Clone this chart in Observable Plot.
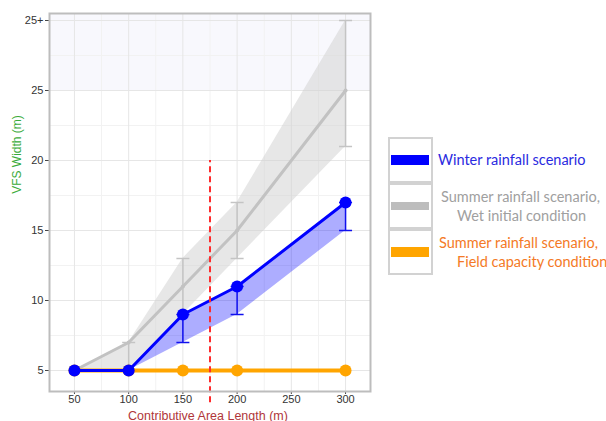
<!DOCTYPE html>
<html><head><meta charset="utf-8">
<script src="https://cdn.jsdelivr.net/npm/d3@7"></script>
<script src="https://cdn.jsdelivr.net/npm/@observablehq/plot@0.6"></script>
<style>
body{margin:0;background:#fff;}
#wrap{position:relative;width:606px;height:421px;overflow:hidden;}
#chart{position:absolute;left:0;top:0;}
#legend{position:absolute;left:0;top:0;width:606px;height:421px;font-family:Lato,"Open Sans",sans-serif;font-size:14.5px;}
.box{position:absolute;left:388px;width:41px;border:2px solid #d2d2d2;box-sizing:content-box;}
.sw{position:absolute;left:391px;width:38px;}
.lt{position:absolute;white-space:nowrap;line-height:18px;}
</style></head><body>
<div id="wrap"><div id="chart"></div><div id="legend"></div></div>
<script>
// ---- data ----
const lengths    = [50, 100, 150, 200, 300];
const winter     = [5, 5, 9, 11, 17];
const winterLow  = [5, 5, 7, 9, 15];
const winterHigh = [5, 5, 9, 11, 17];
const wet        = [5, 7, 11, 15, 25];
const wetLow     = [5, 5, 9, 13, 21];
const wetHigh    = [5, 7, 13, 17, 30];
const field      = [5, 5, 5, 5, 5];
const xTicks = [50, 100, 150, 200, 250, 300];
const xMinor = [75, 125, 175, 225, 275];
const yTicks = [5, 10, 15, 20, 25, 30];
const yTickLabels = ["5", "10", "15", "20", "25", "25+"];
const yMinor = [7.5, 12.5, 17.5, 22.5, 27.5];
const capBand = [{lo: 25, hi: 30.5}];
const threshold = [{x: 175, y1: 2.7, y2: 20}];
const legendItems = [
  {lines: ["Winter rainfall scenario"], color: "#2a2ae0", swatch: "#0000ff"},
  {lines: ["Summer rainfall scenario,", "Wet initial condition"], color: "#a0a0a0", swatch: "#bdbdbd"},
  {lines: ["Summer rainfall scenario,", "Field capacity condition"], color: "#f47a26", swatch: "#ffa500"}
];

const data = lengths.map((x, i) => ({x, winter: winter[i], wl: winterLow[i], wh: winterHigh[i],
  wet: wet[i], el: wetLow[i], eh: wetHigh[i], field: field[i]}));
const wetErr = data.filter(d => d.eh > d.el);
const winErr = data.filter(d => d.wh > d.wl);
const hline = {draw(ctx, size) { const w = Math.sqrt(size / Math.PI); ctx.moveTo(-w, 0); ctx.lineTo(w, 0); }};

const chart = Plot.plot({
  width: 380, height: 421,
  marginTop: 13, marginBottom: 30, marginLeft: 49, marginRight: 10,
  x: {domain: [27, 323]},
  y: {domain: [3.5, 30.5]},
  style: {fontFamily: "'Liberation Sans', Arial, sans-serif", fontSize: "11px", color: "#333", overflow: "visible", background: "#fff"},
  marks: [
    Plot.rect(capBand, {y1: "lo", y2: "hi", fill: "#f8f8fd"}),
    Plot.ruleX(xMinor, {stroke: "#f2f2f2"}),
    Plot.ruleY(yMinor, {stroke: "#f2f2f2"}),
    Plot.ruleX(xTicks, {stroke: "#e6e6e6"}),
    Plot.ruleY(yTicks, {stroke: "#e6e6e6"}),
    Plot.axisX({ticks: xTicks, tickSize: 3, tickPadding: 1, label: null, stroke: "#444"}),
    Plot.axisY({ticks: yTicks, tickFormat: d => yTickLabels[yTicks.indexOf(d)], tickSize: 4, tickPadding: 2, label: null, stroke: "#444"}),
    // wet summer
    Plot.areaY(data, {x: "x", y1: "el", y2: "eh", fill: "#d0d0d0", fillOpacity: 0.5}),
    Plot.line(data, {x: "x", y: "wet", stroke: "#c2c2c2", strokeWidth: 3}),
    Plot.ruleX(wetErr, {x: "x", y1: "el", y2: "eh", stroke: "#c4c4c4", strokeWidth: 1.5}),
    Plot.dot(wetErr, {x: "x", y: "el", symbol: hline, r: 6.5, stroke: "#c4c4c4", strokeWidth: 1.5}),
    Plot.dot(wetErr, {x: "x", y: "eh", symbol: hline, r: 6.5, stroke: "#c4c4c4", strokeWidth: 1.5}),
    Plot.dot(data, {x: "x", y: "wet", r: 2, fill: "#c2c2c2"}),
    // winter
    Plot.areaY(data, {x: "x", y1: "wl", y2: "wh", fill: "#0000ff", fillOpacity: 0.32}),
    // field capacity
    Plot.line(data, {x: "x", y: "field", stroke: "#ffa500", strokeWidth: 4}),
    Plot.dot(data, {x: "x", y: "field", r: 6, fill: "#ffa500"}),
    Plot.line(data, {x: "x", y: "winter", stroke: "#0000ff", strokeWidth: 3}),
    Plot.ruleX(winErr, {x: "x", y1: "wl", y2: "wh", stroke: "#1010ee", strokeWidth: 1.5}),
    Plot.dot(winErr, {x: "x", y: "wl", symbol: hline, r: 6.5, stroke: "#1010ee", strokeWidth: 1.5}),
    Plot.dot(winErr, {x: "x", y: "wh", symbol: hline, r: 6.5, stroke: "#1010ee", strokeWidth: 1.5}),
    Plot.dot(data, {x: "x", y: "winter", r: 6, fill: "#0000ff"}),
    Plot.ruleX(threshold, {x: "x", y1: "y1", y2: "y2", stroke: "#ff2a2a", strokeWidth: 2, strokeDasharray: "6,4"}),
    Plot.frame({stroke: "#bdbdbd", strokeWidth: 2}),
    Plot.text(["VFS Width (m)"], {text: d => d, frameAnchor: "left", textAnchor: "middle", rotate: -90, dx: -32, dy: -48, fill: "#3aab3a", fontSize: 12}),
    Plot.text(["Contributive Area Length (m)"], {text: d => d, frameAnchor: "bottom", textAnchor: "middle", lineAnchor: "middle", dy: 24, dx: -2, fill: "#b0363a", fontSize: 12.5})
  ]
});
document.getElementById("chart").appendChild(chart);

// legend
const legend = document.getElementById("legend");
const cellTops = [137, 183, 229];
const cellH = 42;
const swH = [10, 8, 10];
const lineLefts = [[438], [441, 457], [439, 457]];
legendItems.forEach((it, i) => {
  const top = cellTops[i];
  const b = document.createElement("div");
  b.className = "box";
  b.style.top = top + "px";
  b.style.height = cellH + "px";
  legend.appendChild(b);
  const s = document.createElement("div");
  s.className = "sw";
  const c = top + 2 + cellH / 2;
  s.style.top = (c - swH[i] / 2) + "px";
  s.style.height = swH[i] + "px";
  s.style.background = it.swatch;
  legend.appendChild(s);
  const n = it.lines.length;
  it.lines.forEach((t, j) => {
    const l = document.createElement("div");
    l.className = "lt";
    l.textContent = t;
    l.style.color = it.color;
    l.style.left = lineLefts[i][j] + "px";
    const cy = n === 1 ? c : c - 9.5 + j * 19;
    l.style.top = (cy - 9) + "px";
    legend.appendChild(l);
  });
});
</script>
</body></html>
